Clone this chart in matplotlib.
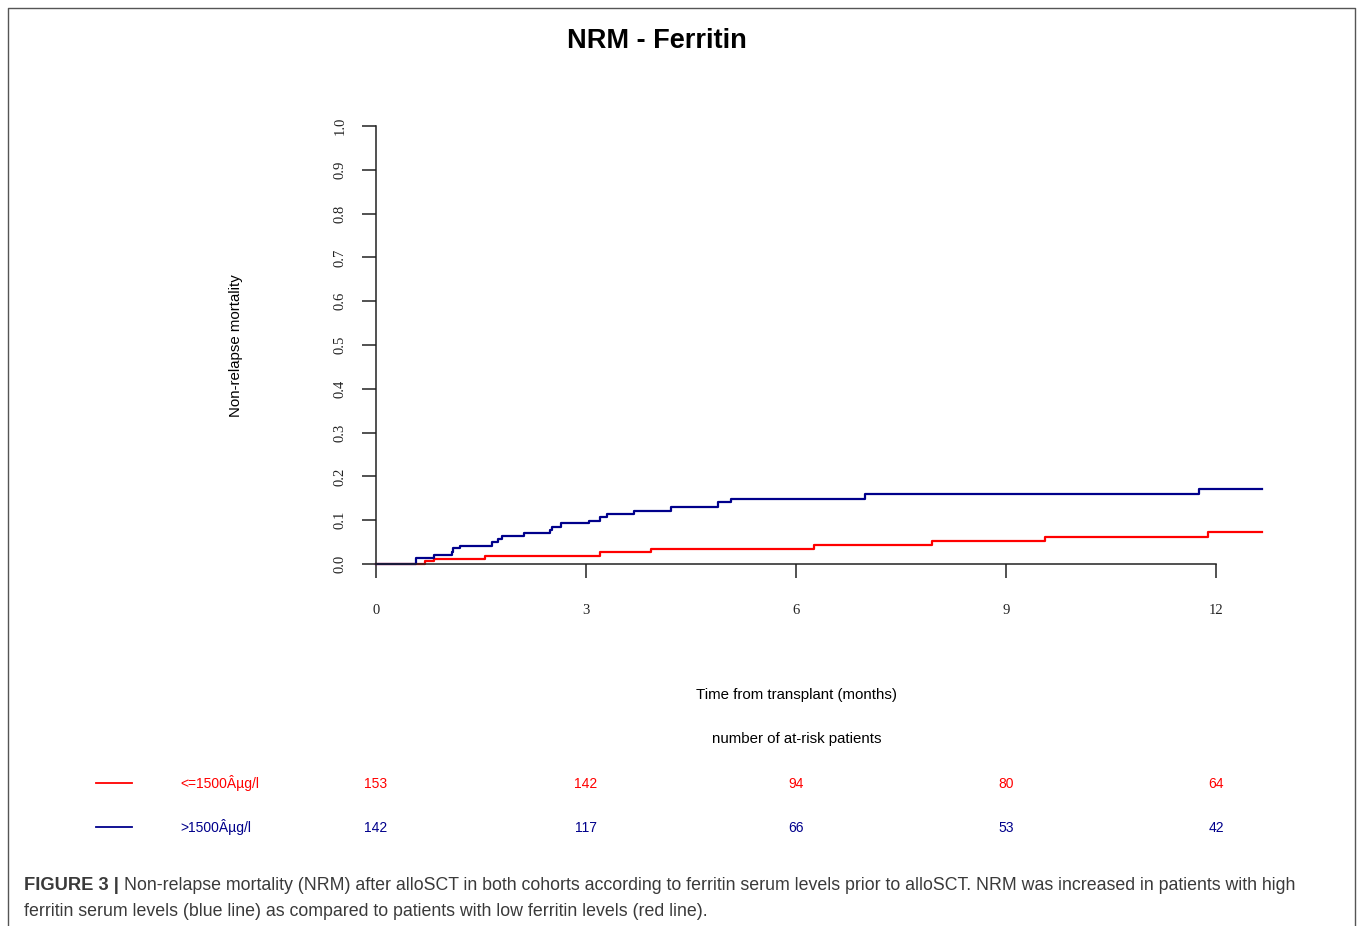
#!/usr/bin/env python3
"""NRM by ferritin group: cumulative incidence step curves with at-risk table."""

import matplotlib

matplotlib.use("Agg")
import matplotlib.pyplot as plt  # noqa: E402

W, H = 1357, 926

# step data (months, cumulative NRM)
low_t = [0.0, 0.70, 0.83, 1.56, 3.20, 3.93, 6.26, 7.94, 9.55, 11.88, 12.66]
low_y = [0.0, 0.007, 0.012, 0.019, 0.027, 0.035, 0.043, 0.052, 0.062, 0.074, 0.074]
high_t = [0.0, 0.57, 0.83, 1.08, 1.10, 1.20, 1.65, 1.74, 1.80, 2.11, 2.48, 2.51,
          2.64, 3.04, 3.20, 3.30, 3.69, 4.22, 4.88, 5.07, 6.99, 11.76, 12.66]
high_y = [0.0, 0.013, 0.020, 0.028, 0.036, 0.042, 0.050, 0.057, 0.064, 0.070, 0.078, 0.085,
          0.093, 0.099, 0.107, 0.114, 0.122, 0.131, 0.141, 0.149, 0.160, 0.172, 0.172]

risk_times = [0, 3, 6, 9, 12]
low_risk = [153, 142, 94, 80, 64]
high_risk = [142, 117, 66, 53, 42]

groups = ["<=1500Âµg/l", ">1500Âµg/l"]
RED = "#ff0000"
BLUE = "#00008b"

y_ticks = [0.0, 0.1, 0.2, 0.3, 0.4, 0.5, 0.6, 0.7, 0.8, 0.9, 1.0]


def fx(px):
    return px / W


def fy(py):
    return 1 - py / H


fig = plt.figure(figsize=(W / 100, H / 100), dpi=100)

# outer frame (left, top, right)
fig.add_artist(plt.Line2D([fx(8), fx(8), fx(1355), fx(1355)], [0, fy(8), fy(8), 0],
                          transform=fig.transFigure, color="#555555", lw=1.0))

# main axes: x from 0 to 12.66 months, y from 0 to 1
x_max = (1262 - 376) / 70
ax = fig.add_axes([fx(376), fy(564), fx(1262) - fx(376), fy(126) - fy(564)])
ax.set_xlim(0, x_max)
ax.set_ylim(0, 1)
ax.step(low_t, low_y, where="post", color=RED, lw=1.6, clip_on=False)
ax.step(high_t, high_y, where="post", color=BLUE, lw=1.6, clip_on=False)

for side in ("top", "right"):
    ax.spines[side].set_visible(False)
ax.spines["left"].set_bounds(0, 1)
ax.spines["bottom"].set_bounds(0, 12)
for side in ("left", "bottom"):
    ax.spines[side].set_linewidth(1.1)
    ax.spines[side].set_color("#222222")

ax.set_xticks(risk_times)
ax.set_xticklabels([str(t) for t in risk_times], fontfamily="Liberation Serif", fontsize=10.5)
ax.set_yticks(y_ticks)
ax.set_yticklabels([f"{v:.1f}" for v in y_ticks], fontfamily="Liberation Serif",
                   fontsize=10.5, rotation=90, va="center")
ax.tick_params(axis="x", length=10, width=1.1, pad=19, colors="#222222")
ax.tick_params(axis="y", length=10, width=1.1, pad=11, colors="#222222")

fig.text(fx(657), fy(41), "NRM - Ferritin", ha="center", va="center",
         fontsize=19.5, fontweight="bold", family="Liberation Sans")
fig.text(fx(236), fy(346), "Non-relapse mortality", rotation=90, ha="center", va="center",
         fontsize=10.8, family="Liberation Sans")
fig.text(fx(797), fy(695), "Time from transplant (months)", ha="center", va="center",
         fontsize=10.8, family="Liberation Sans")
fig.text(fx(797), fy(739), "number of at-risk patients", ha="center", va="center",
         fontsize=10.8, family="Liberation Sans")

# at-risk table
rows = [(groups[0], low_risk, RED, 783), (groups[1], high_risk, BLUE, 827)]
for label, counts, col, ypix in rows:
    fig.add_artist(plt.Line2D([fx(96), fx(132)], [fy(ypix), fy(ypix)],
                              transform=fig.transFigure, color=col, lw=1.3))
    fig.text(fx(180), fy(ypix), label, ha="left", va="center", color=col,
             fontsize=10, family="Liberation Sans")
    for t, n in zip(risk_times, counts):
        xpix = ax.transData.transform((t, 0))[0]
        fig.text(xpix / W, fy(ypix + 1), str(n), ha="center", va="center", color=col,
                 fontsize=10, family="Liberation Sans")

# caption
cap_col = "#3a3a3a"
cap_size = 12.8
fig.text(fx(24), fy(886), "FIGURE 3 |", ha="left", va="center", color=cap_col,
         fontsize=cap_size + 0.4, fontweight="bold", family="Liberation Sans")
fig.text(fx(124), fy(886),
         "Non-relapse mortality (NRM) after alloSCT in both cohorts according to ferritin "
         "serum levels prior to alloSCT. NRM was increased in patients with high",
         ha="left", va="center", color=cap_col, fontsize=cap_size, family="Liberation Sans")
fig.text(fx(24), fy(911),
         "ferritin serum levels (blue line) as compared to patients with low ferritin levels (red line).",
         ha="left", va="center", color=cap_col, fontsize=cap_size, family="Liberation Sans")

fig.savefig("out.png", dpi=100)
